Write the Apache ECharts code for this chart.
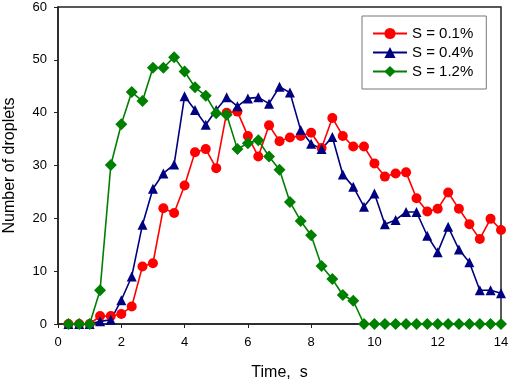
<!DOCTYPE html>
<html>
<head>
<meta charset="utf-8">
<script src="https://cdn.jsdelivr.net/npm/echarts@6/dist/echarts.min.js"></script>
<style>
  html, body { margin: 0; padding: 0; background: #fff; }
  #chart { width: 510px; height: 381px; }
</style>
</head>
<body>
<div id="chart"></div>
<script>
// time samples, s
const timeS = [
  0.33, 0.67, 1.0, 1.33, 1.67, 2.0, 2.33, 2.67, 3.0, 3.33, 3.67, 4.0, 4.33, 4.67,
  5.0, 5.33, 5.67, 6.0, 6.33, 6.67, 7.0, 7.33, 7.67, 8.0, 8.33, 8.67, 9.0, 9.33,
  9.67, 10.0, 10.33, 10.67, 11.0, 11.33, 11.67, 12.0, 12.33, 12.67, 13.0, 13.33, 13.67, 14.0
]

const s01 = [
  0, 0, 0, 1.5, 1.5, 1.9, 3.3, 10.9, 11.5, 21.9, 21.0, 26.2, 32.5, 33.1,
  29.5, 40.0, 40.2, 35.6, 31.7, 37.6, 34.6, 35.3, 35.6, 36.2, 33.3, 39.0, 35.6, 33.6,
  33.6, 30.4, 27.9, 28.5, 28.7, 23.8, 21.3, 21.8, 24.9, 21.8, 18.9, 16.1, 19.9, 17.8
]

const s04 = [
  0, 0, 0, 0.5, 0.8, 4.5, 9.0, 18.8, 25.6, 28.5, 30.2, 43.1, 40.5, 37.7,
  40.5, 42.9, 41.2, 42.7, 42.9, 41.7, 44.9, 43.8, 36.7, 34.1, 33.1, 35.4, 28.3, 26.0,
  22.2, 24.7, 18.9, 19.7, 21.2, 21.2, 16.7, 13.6, 18.4, 14.1, 11.7, 6.4, 6.4, 5.8
]

const s12 = [
  0, 0, 0, 6.4, 30.1, 37.8, 43.9, 42.2, 48.5, 48.5, 50.5, 47.8, 44.8, 43.2,
  39.9, 39.6, 33.1, 34.2, 34.8, 31.7, 29.2, 23.1, 19.5, 16.8, 11.0, 8.5, 5.5, 4.4,
  0, 0, 0, 0, 0, 0, 0, 0, 0, 0, 0, 0, 0, 0
]

const xTicks = [0, 2, 4, 6, 8, 10, 12, 14]
const yTicks = [0, 10, 20, 30, 40, 50, 60]

const font = 'Liberation Sans, Arial, sans-serif'
const colors = { red: '#ff0000', blue: '#000080', green: '#008000', text: '#000', axis: '#222' }

function pairs(ys) {
  return timeS.map((t, i) => [t, ys[i]])
}

function line(name, ys, color, symbol, size) {
  return {
    name,
    type: 'line',
    data: pairs(ys),
    symbol,
    symbolSize: size,
    showAllSymbol: true,
    lineStyle: { color, width: 1.6 },
    itemStyle: { color },
    z: 3,
  }
}

const chart = echarts.init(document.getElementById('chart'), null, { renderer: 'canvas' })

chart.setOption({
  animation: false,
  textStyle: { fontFamily: font },
  grid: {
    left: 58, right: 9, top: 7, bottom: 57,
    outerBoundsMode: 'none',
    containLabel: false,
    show: true, borderColor: colors.axis, borderWidth: 1.5, backgroundColor: '#fff',
  },
  legend: {
    orient: 'vertical',
    left: 362, top: 16,
    padding: [10, 13, 10, 10],
    itemGap: 4,
    itemWidth: 34,
    itemHeight: 14,
    backgroundColor: '#fff',
    borderColor: '#777',
    borderWidth: 1,
    borderRadius: 0,
    textStyle: { fontFamily: font, fontSize: 15, lineHeight: 15, color: colors.text },
    data: ['S = 0.1%', 'S = 0.4%', 'S = 1.2%'],
  },
  xAxis: {
    type: 'value',
    min: xTicks[0], max: xTicks[xTicks.length - 1], interval: 2,
    name: 'Time,  s',
    nameLocation: 'middle',
    nameGap: 41,
    nameTextStyle: { fontFamily: font, fontSize: 16, color: colors.text },
    axisLine: { onZero: false, lineStyle: { color: colors.axis, width: 1.5 } },
    axisTick: { show: true, length: 4, lineStyle: { color: colors.axis } },
    axisLabel: { fontFamily: font, fontSize: 13, color: colors.text, margin: 12 },
    splitLine: { show: false },
  },
  yAxis: {
    type: 'value',
    min: yTicks[0], max: yTicks[yTicks.length - 1], interval: 10,
    name: 'Number of droplets',
    nameLocation: 'middle',
    nameGap: 40,
    nameTextStyle: { fontFamily: font, fontSize: 16, color: colors.text },
    axisLine: { show: true, lineStyle: { color: colors.axis, width: 1.5 } },
    axisTick: { show: true, length: 4, lineStyle: { color: colors.axis } },
    axisLabel: { fontFamily: font, fontSize: 13, color: colors.text, margin: 11 },
    splitLine: { show: false },
  },
  series: [
    line('S = 0.1%', s01, colors.red, 'circle', 10),
    line('S = 0.4%', s04, colors.blue, 'triangle', 10),
    line('S = 1.2%', s12, colors.green, 'diamond', 12),
  ],
})
</script>
</body>
</html>
